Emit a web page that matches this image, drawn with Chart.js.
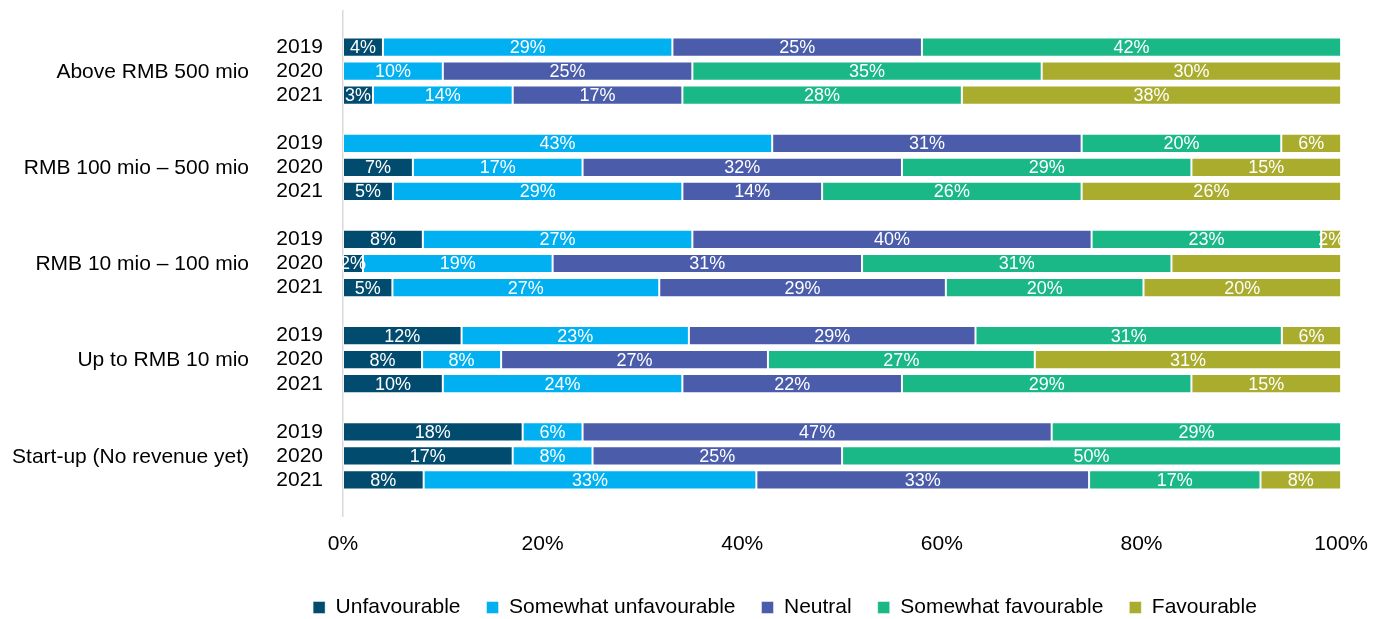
<!DOCTYPE html>
<html>
<head>
<meta charset="utf-8">
<script src="https://cdn.jsdelivr.net/npm/chart.js@4/dist/chart.umd.min.js"></script>
<style>
  html, body { margin: 0; padding: 0; background: #ffffff; }
  #wrap { width: 1384px; height: 619px; position: relative; }
</style>
</head>
<body>
<div id="wrap"><canvas id="chart" width="1384" height="619"></canvas></div>
<script>
// Revenue groups (top to bottom) and survey years within each group
const groups = ['Above RMB 500 mio', 'RMB 100 mio \u2013 500 mio', 'RMB 10 mio \u2013 100 mio', 'Up to RMB 10 mio', 'Start-up (No revenue yet)'];
const years = ['2019', '2020', '2021'];
const seriesNames = ['Unfavourable', 'Somewhat unfavourable', 'Neutral', 'Somewhat favourable', 'Favourable'];

// Answer shares in %, one entry per group/year row (3 rows per group)
const unfavourable         = [4, 0, 3,   0, 7, 5,    8, 2, 5,    12, 8, 10,  18, 17, 8];
const somewhatUnfavourable = [29, 10, 14, 43, 17, 29, 27, 19, 27, 23, 8, 24,  6, 8, 33];
const neutral              = [25, 25, 17, 31, 32, 14, 40, 31, 29, 29, 27, 22, 47, 25, 33];
const somewhatFavourable   = [42, 35, 28, 20, 29, 26, 23, 31, 20, 31, 27, 29, 29, 50, 17];
const favourable           = [0, 30, 38,  6, 15, 26,  2, 17, 20,  6, 31, 15,  0, 0, 8];

// Segments printed without a value label: [series index, row index]
const unlabelled = [[4, 7]];

const xTicks = [0, 20, 40, 60, 80, 100];

const seriesValues = [unfavourable, somewhatUnfavourable, neutral, somewhatFavourable, favourable];
const seriesColors = ['#004b6e', '#00b0f0', '#4a5caa', '#19b886', '#a9ac2d'];

// Category slots: empty slot at top/bottom and between groups
const slotLabels = [''];
const rowToSlot = [];
groups.forEach((g, gi) => {
  years.forEach((y) => { rowToSlot.push(slotLabels.length); slotLabels.push(y); });
  slotLabels.push('');
});

const rowCount = groups.length * years.length;
const rowTotals = [];
for (let r = 0; r < rowCount; r++) {
  rowTotals.push(seriesValues.reduce((s, arr) => s + arr[r], 0));
}

const datasets = seriesNames.map((name, si) => {
  const data = new Array(slotLabels.length).fill(null);
  const raw = new Array(slotLabels.length).fill(null);
  for (let r = 0; r < rowCount; r++) {
    const v = seriesValues[si][r];
    data[rowToSlot[r]] = v > 0 ? v / rowTotals[r] * 100 : null;
    raw[rowToSlot[r]] = v;
  }
  return {
    label: name,
    data: data,
    raw: raw,
    backgroundColor: seriesColors[si],
    borderColor: 'rgba(255,255,255,0.45)',
    borderWidth: 1,
    borderSkipped: false,
    barPercentage: 0.8,
    categoryPercentage: 1.0
  };
});

const FONT = 'Liberation Sans, Arial, Helvetica, sans-serif';

// White value labels centred in each segment
const valueLabels = {
  id: 'valueLabels',
  afterDatasetsDraw(chart) {
    const ctx = chart.ctx;
    ctx.save();
    ctx.font = '18px ' + FONT;
    ctx.fillStyle = '#ffffff';
    ctx.textAlign = 'center';
    ctx.textBaseline = 'middle';
    chart.data.datasets.forEach((ds, si) => {
      const meta = chart.getDatasetMeta(si);
      meta.data.forEach((bar, idx) => {
        const v = ds.raw[idx];
        if (!v) return;
        const row = rowToSlot.indexOf(idx);
        if (unlabelled.some(([s, r]) => s === si && r === row)) return;
        const { x, base, y } = bar.getProps(['x', 'base', 'y'], true);
        ctx.fillText(v + '%', (x + base) / 2, y + 1);
      });
    });
    ctx.restore();
  }
};

// Group names to the left of the year labels, centred on each group's middle row
const groupLabels = {
  id: 'groupLabels',
  afterDraw(chart) {
    const ctx = chart.ctx;
    const yScale = chart.scales.y;
    ctx.save();
    ctx.font = '21px ' + FONT;
    ctx.fillStyle = '#000000';
    ctx.textAlign = 'right';
    ctx.textBaseline = 'middle';
    groups.forEach((g, gi) => {
      const mid = rowToSlot[gi * years.length + 1];
      ctx.fillText(g, chart.chartArea.left - 94, yScale.getPixelForValue(mid) + 1);
    });
    ctx.restore();
  }
};

new Chart(document.getElementById('chart'), {
  type: 'bar',
  data: { labels: slotLabels, datasets: datasets },
  options: {
    indexAxis: 'y',
    responsive: false,
    animation: false,
    layout: { padding: { left: 228, right: 42, top: 11, bottom: -9 } },
    scales: {
      x: {
        stacked: true,
        min: 0,
        max: 100,
        afterBuildTicks(scale) { scale.ticks = xTicks.map(v => ({ value: v })); },
        afterFit(scale) { scale.height = 55; },
        grid: { display: false, drawTicks: false },
        border: { display: false },
        ticks: {
          padding: 16,
          color: '#000000',
          font: { family: FONT, size: 21 },
          callback: (v) => v + '%'
        }
      },
      y: {
        stacked: true,
        afterFit(scale) {
          scale.width = 115;
          scale.paddingTop = 0;
          scale.paddingBottom = 0;
        },
        grid: { display: false, drawTicks: false },
        border: { display: true, color: '#d9d9d9', width: 1.5 },
        ticks: {
          autoSkip: false,
          padding: 20,
          color: '#000000',
          font: { family: FONT, size: 21 }
        }
      }
    },
    plugins: {
      legend: {
        position: 'bottom',
        labels: {
          boxWidth: 12,
          boxHeight: 12,
          padding: 26,
          color: '#000000',
          font: { family: FONT, size: 21 }
        }
      },
      tooltip: { enabled: false }
    }
  },
  plugins: [valueLabels, groupLabels]
});
</script>
</body>
</html>
